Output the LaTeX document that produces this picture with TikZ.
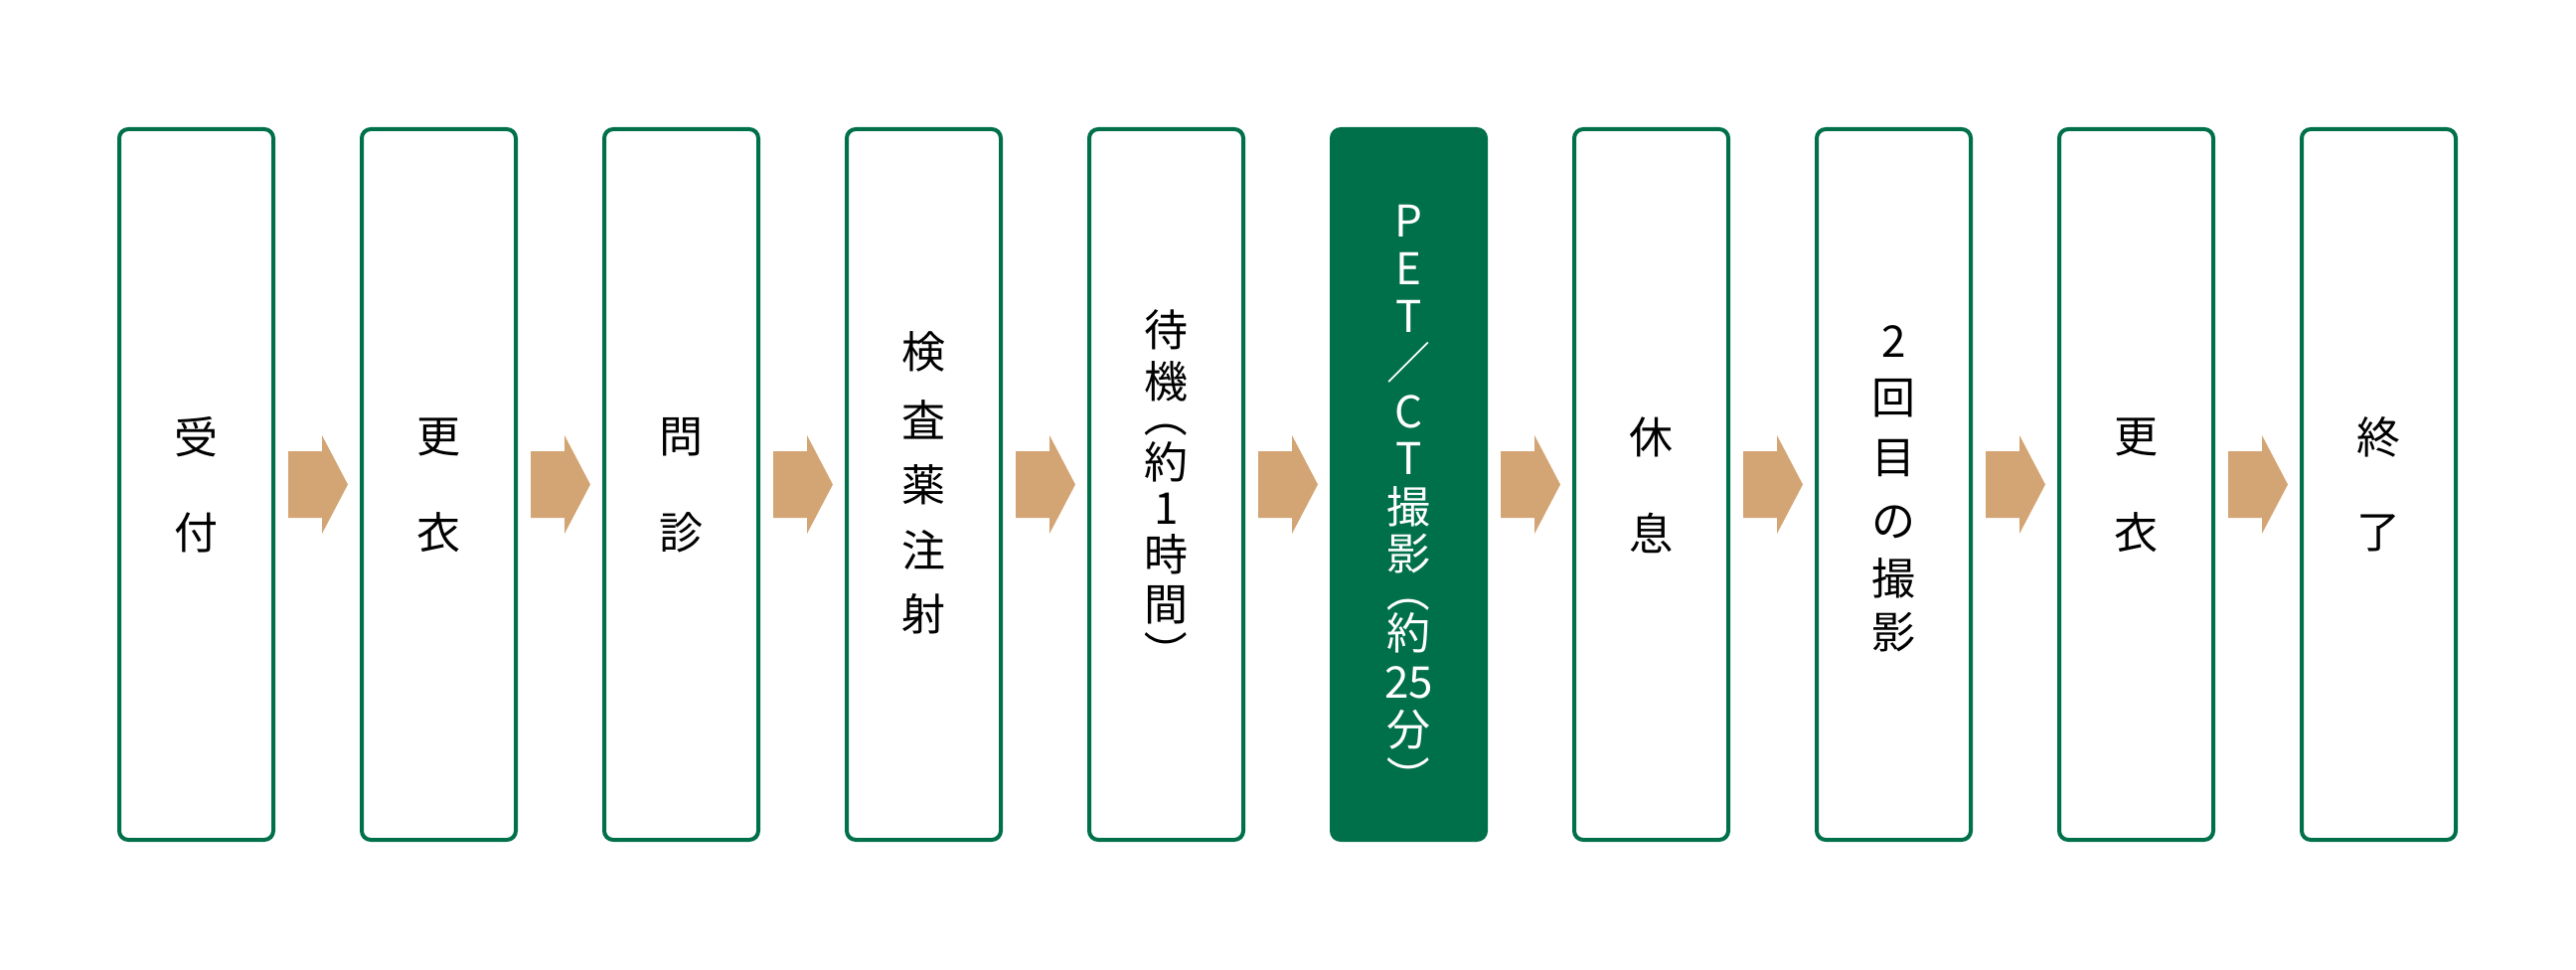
\documentclass[tikz,border=0pt]{standalone}
\usepackage{fontspec}
\setmainfont{Noto Sans CJK JP}
\usetikzlibrary{calc}
\definecolor{pgreen}{HTML}{00704A}
\definecolor{parrow}{HTML}{D4A574}
\tikzset{
  stepbox/.style={draw=pgreen, line width=4pt, rounded corners=9pt,
    minimum width=155pt, minimum height=715pt, inner sep=0pt, fill=white},
  stepboxhl/.style={stepbox, fill=pgreen},
  glyph/.style={font=\fontsize{44}{44}\selectfont, inner sep=0pt, text=black},
  glyphw/.style={glyph, text=white},
  vparen/.style={rotate=-90},
  flowarrow/.style={fill=parrow, draw=none},
}
\begin{document}
\begin{tikzpicture}[x=1pt,y=-1pt]
\fill[white] (0,0) rectangle (2592,976);
\useasboundingbox (0,0) rectangle (2592,976);
% boxes
\node[stepbox]   (b1)  at (197.5,487.5) {};
\node[stepbox]   (b2)  at (441.5,487.5) {};
\node[stepbox]   (b3)  at (685.5,487.5) {};
\node[stepbox]   (b4)  at (929.5,487.5) {};
\node[stepbox]   (b5)  at (1173.5,487.5) {};
\node[stepboxhl] (b6)  at (1417.5,487.5) {};
\node[stepbox]   (b7)  at (1661.5,487.5) {};
\node[stepbox]   (b8)  at (1905.5,487.5) {};
\node[stepbox]   (b9)  at (2149.5,487.5) {};
\node[stepbox]   (b10) at (2393.5,487.5) {};
% arrows
\foreach \i in {1,...,9}{
  \fill[flowarrow] ($(b\i.east)+(13,-33.5)$) -- ($(b\i.east)+(47,-33.5)$)
    -- ($(b\i.east)+(47,-49.5)$) -- ($(b\i.east)+(73,0)$)
    -- ($(b\i.east)+(47,49.5)$) -- ($(b\i.east)+(47,33.5)$)
    -- ($(b\i.east)+(13,33.5)$) -- cycle;
}
% labels
\foreach \dy/\t [count=\k] in {-47.5/受,48.5/付}
  \node[glyph] (l1-\k) at ($(b1.center)+(0,\dy)$) {\t};
\foreach \dy/\t [count=\k] in {-47.5/更,48.5/衣}
  \node[glyph] (l2-\k) at ($(b2.center)+(0,\dy)$) {\t};
\foreach \dy/\t [count=\k] in {-47.5/問,48.5/診}
  \node[glyph] (l3-\k) at ($(b3.center)+(0,\dy)$) {\t};
\foreach \dy/\t [count=\k] in {-133.5/検,-65.5/査,0.5/薬,65.5/注,130.5/射}
  \node[glyph] (l4-\k) at ($(b4.center)+(0,\dy)$) {\t};
\foreach \dy/\t [count=\k] in {-155.5/待,-103.5/機,-22.5/約,24.5/1,70.5/時,121.5/間}
  \node[glyph] (l5-\k) at ($(b5.center)+(0,\dy)$) {\t};
\node[glyph,vparen] (l5-p1) at ($(b5.center)+(0,-69.5)$) {（};
\node[glyph,vparen] (l5-p2) at ($(b5.center)+(0,168.5)$) {）};
\foreach \dy/\t [count=\k] in {-265.5/P,-217.5/E,-169.5/T,-122.5/／,-73.5/C,-26.5/T,22.5/撮,69.5/影,149.5/約,199.5/25,246.5/分}
  \node[glyphw] (l6-\k) at ($(b6.center)+(0,\dy)$) {\t};
\node[glyphw,vparen] (l6-p1) at ($(b6.center)+(0,106.5)$) {（};
\node[glyphw,vparen] (l6-p2) at ($(b6.center)+(0,294.5)$) {）};
\foreach \dy/\t [count=\k] in {-47.5/休,48.5/息}
  \node[glyph] (l7-\k) at ($(b7.center)+(0,\dy)$) {\t};
\foreach \dy/\t [count=\k] in {-143.5/2,-86.5/回,-26.5/目,37.5/の,94.5/撮,148.5/影}
  \node[glyph] (l8-\k) at ($(b8.center)+(0,\dy)$) {\t};
\foreach \dy/\t [count=\k] in {-47.5/更,48.5/衣}
  \node[glyph] (l9-\k) at ($(b9.center)+(0,\dy)$) {\t};
\foreach \dy/\t [count=\k] in {-47.5/終,48.5/了}
  \node[glyph] (l10-\k) at ($(b10.center)+(0,\dy)$) {\t};
\end{tikzpicture}
\end{document}
